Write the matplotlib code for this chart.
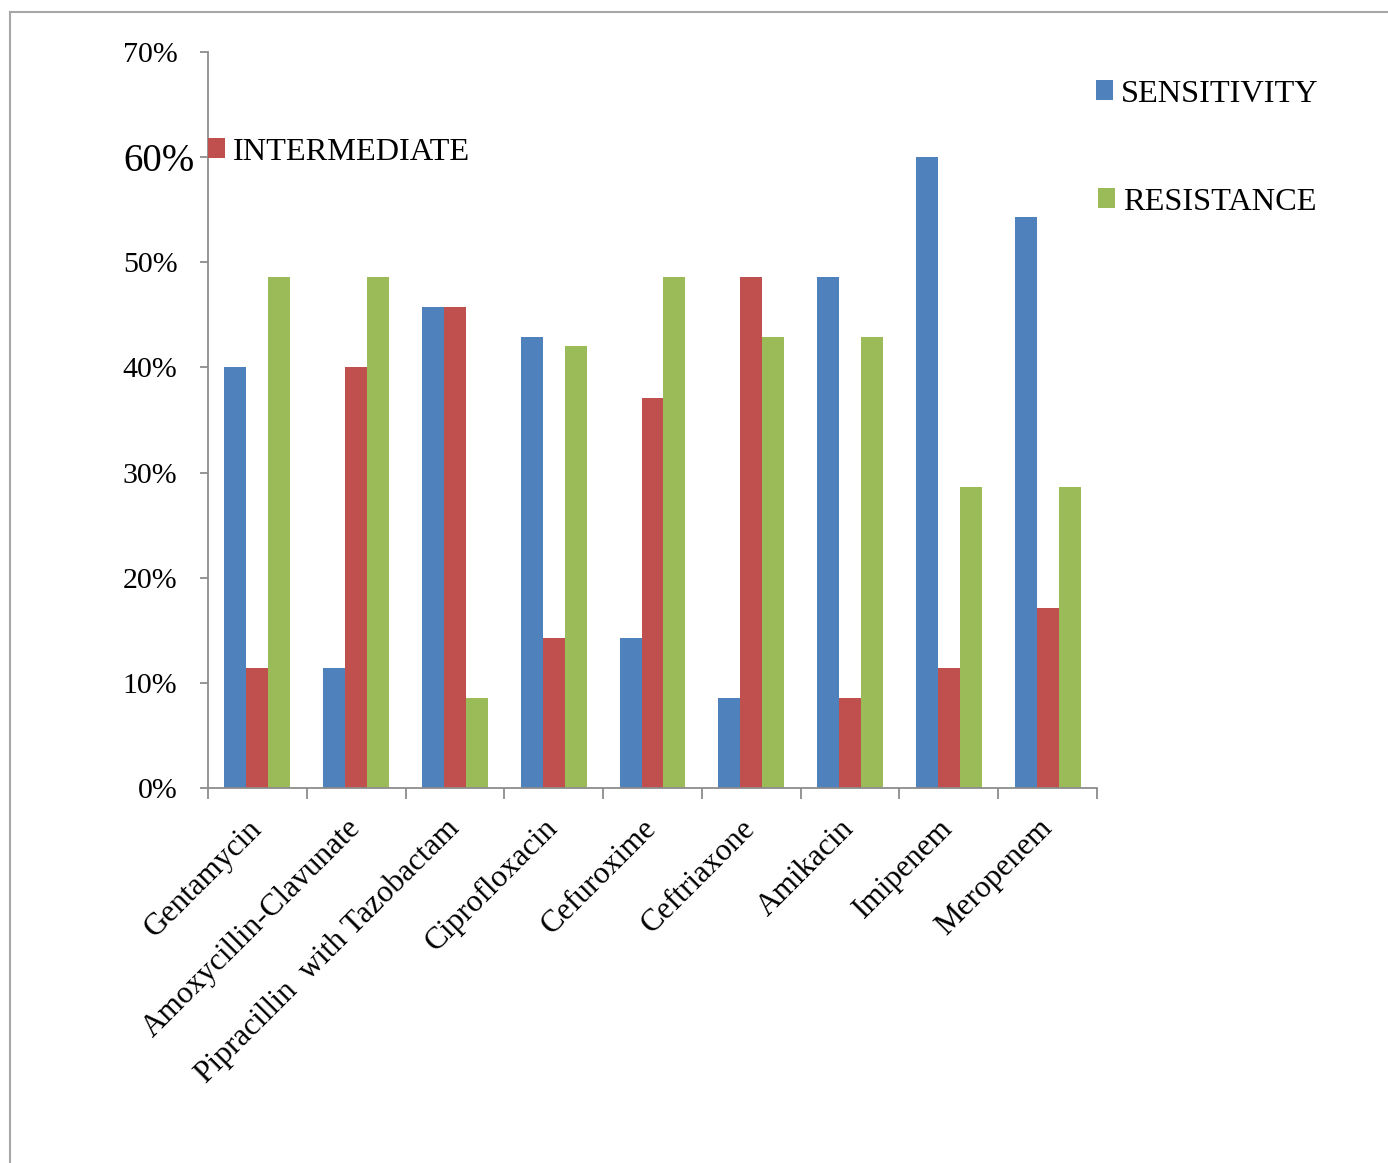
import matplotlib
matplotlib.use("Agg")
import matplotlib.pyplot as plt
from matplotlib.lines import Line2D
from matplotlib.ticker import FixedLocator, FuncFormatter
import numpy as np

# Antibiotic susceptibility profile (fractions of isolates)
antibiotics = ["Gentamycin", "Amoxycillin-Clavunate", "Pipracillin  with Tazobactam",
               "Ciprofloxacin", "Cefuroxime", "Ceftriaxone", "Amikacin",
               "Imipenem", "Meropenem"]
sensitivity = [0.400, 0.114, 0.457, 0.429, 0.143, 0.086, 0.486, 0.600, 0.543]
intermediate = [0.114, 0.400, 0.457, 0.143, 0.371, 0.486, 0.086, 0.114, 0.171]
resistance = [0.486, 0.486, 0.086, 0.420, 0.486, 0.429, 0.429, 0.286, 0.286]
y_ticks = [0.0, 0.1, 0.2, 0.3, 0.4, 0.5, 0.6, 0.7]

BLUE, RED, GREEN = "#4F81BD", "#C0504D", "#9BBB59"
AXIS_GREY = "#8C8C8C"
FONT = "Liberation Serif"

W, H = 1388, 1163
fig = plt.figure(figsize=(W / 100, H / 100), dpi=100)
fig.patch.set_facecolor("white")

ax_l, ax_r, ax_t, ax_b = 208, 1097, 52, 788
ax = fig.add_axes([ax_l / W, 1 - ax_b / H, (ax_r - ax_l) / W, (ax_b - ax_t) / H])

x = np.arange(len(antibiotics))
bw = 0.222
b_s = ax.bar(x - bw, sensitivity, bw, color=BLUE, label="SENSITIVITY")
b_i = ax.bar(x, intermediate, bw, color=RED, label="INTERMEDIATE")
b_r = ax.bar(x + bw, resistance, bw, color=GREEN, label="RESISTANCE")

ax.set_xlim(-0.5, len(antibiotics) - 0.5)
ax.set_ylim(0, 0.7)

for side in ("top", "right"):
    ax.spines[side].set_visible(False)
for side in ("left", "bottom"):
    ax.spines[side].set_color(AXIS_GREY)
    ax.spines[side].set_linewidth(1.3)

# y axis: percentage ticks, the 60% label drawn larger
ax.set_yticks(y_ticks)
ax.yaxis.set_major_formatter(FuncFormatter(
    lambda v, p: "" if abs(v - 0.6) < 1e-9 else f"{v * 100:.0f}%"))
ax.tick_params(axis="y", length=6, width=1.3, color=AXIS_GREY, pad=16,
               labelsize=21.5, labelfontfamily=FONT)
ax.text(-0.0956, 0.6, "60%", transform=ax.get_yaxis_transform(),
        ha="left", va="center_baseline", fontsize=28, family=FONT)

# x axis: ticks between categories, rotated labels at centres
ax.xaxis.set_minor_locator(FixedLocator(np.arange(-0.5, len(antibiotics), 1.0)))
ax.set_xticks(x)
ax.set_xticklabels(antibiotics, rotation=45, ha="right", va="center",
                   rotation_mode="anchor", fontsize=22.5, family=FONT)
ax.tick_params(axis="x", which="major", length=0, pad=26)
ax.tick_params(axis="x", which="minor", length=8, width=1.3, color=AXIS_GREY)

# legend entries placed individually
def place_legend(handle, label, x_px, y_px):
    lg = fig.legend([handle], [label], loc="center left",
                    bbox_to_anchor=(x_px / W, 1 - y_px / H),
                    frameon=False, borderpad=0, borderaxespad=0,
                    handlelength=0.54, handleheight=0.54, handletextpad=0.22,
                    prop={"family": FONT, "size": 23.3})
    return lg

place_legend(b_s, "SENSITIVITY", 1096, 94)
place_legend(b_r, "RESISTANCE", 1098, 202)
place_legend(b_i, "INTERMEDIATE", 208, 152)

# outer frame around the chart area
frame_kw = dict(transform=fig.transFigure, color="#A6A6A6", lw=1.5)
fig.add_artist(Line2D([10 / W, 10 / W], [0, 1 - 12 / H], **frame_kw))
fig.add_artist(Line2D([10 / W, 1], [1 - 12 / H, 1 - 12 / H], **frame_kw))

fig.savefig("out.png", dpi=100, facecolor="white")
